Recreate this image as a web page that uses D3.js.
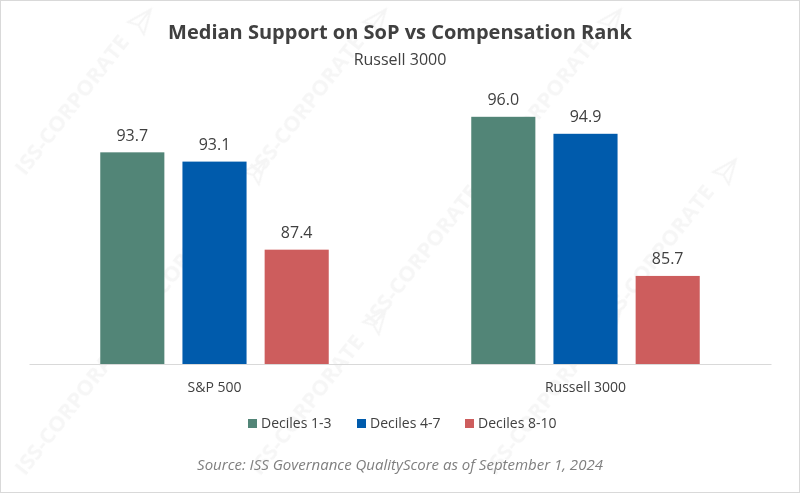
<!DOCTYPE html>
<html><head><meta charset="utf-8">
<script src="https://cdn.jsdelivr.net/npm/d3@7"></script>
<style>html,body{margin:0;padding:0;background:#fff;}svg{display:block;}</style>
</head><body>
<svg id="chart" width="800" height="493"></svg>
<script>
const categories = ["S&P 500", "Russell 3000"];
const seriesNames = ["Deciles 1-3", "Deciles 4-7", "Deciles 8-10"];
const decile13 = [93.7, 96.0];
const decile47 = [93.1, 94.9];
const decile810 = [87.4, 85.7];
const seriesColors = ["#528577", "#005BAC", "#CD5D5D"];
const titleText = "Median Support on SoP vs Compensation Rank";
const subtitleText = "Russell 3000";
const sourceText = "Source: ISS Governance QualityScore as of September 1, 2024";
const watermarkText = "ISS-CORPORATE";

const seriesValues = [decile13, decile47, decile810];
const W = 800, H = 493;
const svg = d3.select("#chart");
const font = "'Open Sans', 'Noto Sans', sans-serif";

svg.append("rect").attr("x",0.5).attr("y",0.5).attr("width",W-1).attr("height",H-1)
  .attr("fill","#fff").attr("stroke","#d9d9d9");

// watermark (only instances fully inside the frame)
const wm = svg.append("g").attr("opacity",0.6);
for (let r = 0; r < 3; r++) {
  for (let c = 0; c < 4; c++) {
    const cx = c * 235 + (r % 2 ? 200 : 85);
    const cy = r * 150 + 100;
    if (cx < 80 || cx > 715 || cy < 95 || cy > 400) continue;
    const g = wm.append("g").attr("transform",`translate(${cx},${cy}) rotate(-52)`);
    g.append("text").text(watermarkText).attr("font-family",font).attr("font-weight",700)
      .attr("font-size",22).attr("fill","#f0f0f0").attr("text-anchor","middle").attr("x",-12);
    g.append("path").attr("d","M88,-14 L112,-4 L88,6 L92,-4 Z M92,-4 L112,-4")
      .attr("fill","none").attr("stroke","#eeeeee").attr("stroke-width",2);
  }
}

const y = d3.scaleLinear().domain([80, 100]).range([364, 55]);
const x0 = d3.scaleBand().domain(categories).range([29, 771]).paddingInner(0).paddingOuter(0);
const x1 = d3.scaleBand().domain(seriesNames).range([0, x0.bandwidth()])
  .paddingInner(0.22).paddingOuter(0.867);

const groups = svg.append("g").selectAll("g").data(categories).join("g")
  .attr("transform", d => `translate(${x0(d)},0)`);

groups.each(function(cat, ci) {
  const g = d3.select(this);
  seriesNames.forEach((s, si) => {
    const v = seriesValues[si][ci];
    g.append("rect").attr("x", x1(s)).attr("y", y(v))
      .attr("width", x1.bandwidth()).attr("height", y(80) - y(v))
      .attr("fill", seriesColors[si]);
    g.append("text").attr("x", x1(s) + x1.bandwidth()/2).attr("y", y(v) - 11.5)
      .attr("text-anchor","middle").attr("font-family",font).attr("font-size",16)
      .attr("fill","#404040").text(v.toFixed(1));
  });
});

// baseline
const xAxis = d3.axisBottom(x0).tickSize(0).tickPadding(0);
const axG = svg.append("g").attr("transform","translate(0,364)").call(xAxis);
axG.select(".domain").attr("stroke","#d9d9d9").attr("stroke-width",1.2);
axG.selectAll("text").attr("font-family",font).attr("font-size",14).attr("fill","#404040")
  .attr("dy",0).attr("y",28);

// titles
svg.append("text").attr("x",400).attr("y",39).attr("text-anchor","middle")
  .attr("font-family",font).attr("font-weight",700).attr("font-size",20).attr("fill","#404040")
  .text(titleText);
svg.append("text").attr("x",400).attr("y",65).attr("text-anchor","middle")
  .attr("font-family",font).attr("font-size",16).attr("fill","#404040").text(subtitleText);

// legend
const legX = [248, 357, 465];
const leg = svg.append("g");
seriesNames.forEach((s, i) => {
  leg.append("rect").attr("x",legX[i]).attr("y",419).attr("width",9).attr("height",9).attr("fill",seriesColors[i]);
  leg.append("text").attr("x",legX[i]+13).attr("y",428).attr("font-family",font).attr("font-size",14)
    .attr("fill","#404040").text(s);
});

svg.append("text").attr("x",400).attr("y",470).attr("text-anchor","middle")
  .attr("font-family",font).attr("font-style","italic").attr("font-size",15).attr("fill","#7f7f7f")
  .text(sourceText);
</script>
</body></html>
